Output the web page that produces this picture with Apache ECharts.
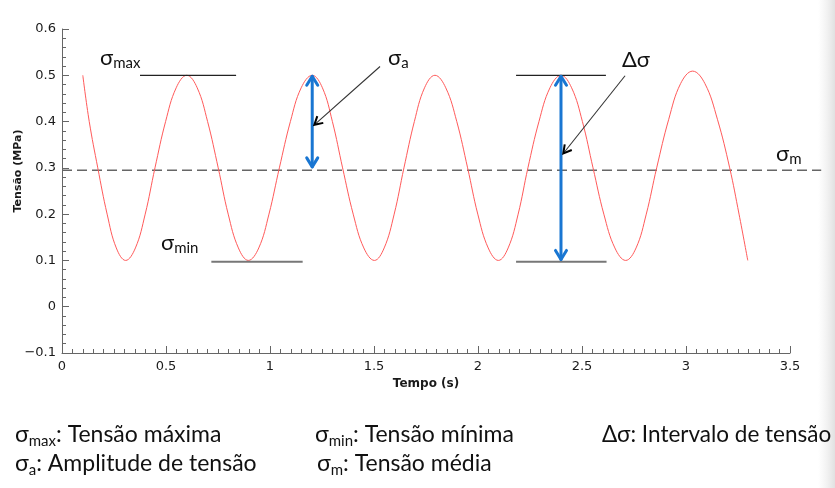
<!DOCTYPE html>
<html>
<head>
<meta charset="utf-8">
<script src="https://cdn.jsdelivr.net/npm/echarts@6/dist/echarts.min.js"></script>
<style>
html,body{margin:0;padding:0;background:#fff;}
#chart{width:835px;height:488px;}
</style>
</head>
<body>
<div id="chart"></div>
<script>
// ---- data ----
const timeX = [0.100,0.131,0.172,0.217,0.261,0.306,0.353,0.400,0.447,0.498,0.549,0.600,0.650,0.700,0.751,0.799,0.848,0.896,0.946,0.995,1.045,1.098,1.150,1.203,1.252,1.300,1.349,1.400,1.451,1.502,1.549,1.597,1.644,1.694,1.743,1.793,1.845,1.898,1.950,1.999,2.049,2.098,2.145,2.193,2.240,2.293,2.346,2.399,2.450,2.502,2.553,2.605,2.658,2.710,2.760,2.809,2.859,2.917,2.974,3.032,3.091,3.151,3.210,3.255,3.297];
const stressY = [0.500,0.400,0.300,0.200,0.127,0.100,0.127,0.200,0.300,0.400,0.473,0.500,0.473,0.400,0.300,0.200,0.127,0.100,0.127,0.200,0.300,0.400,0.473,0.500,0.473,0.400,0.300,0.200,0.127,0.100,0.127,0.200,0.300,0.400,0.473,0.500,0.473,0.400,0.300,0.200,0.127,0.100,0.127,0.200,0.300,0.400,0.473,0.500,0.473,0.400,0.300,0.200,0.127,0.100,0.127,0.200,0.300,0.405,0.482,0.509,0.482,0.405,0.300,0.200,0.100];
const meanStress = 0.295;
const meanLineEnd = 3.65;
// horizontal reference segments: [xStart, xEnd, y]
const maxSegments = [[0.375, 0.837, 0.5], [2.183, 2.615, 0.5]];
const minSegments = [[0.718, 1.157, 0.097], [2.183, 2.618, 0.097]];
// double blue arrows: [x, yTop, yBottom]
const blueArrows = [[1.203, 0.5, 0.3], [2.399, 0.5, 0.1]];
// pointer arrows: [xFrom, yFrom, xTo, yTo]
const pointerArrows = [[1.529, 0.519, 1.213, 0.393], [2.707, 0.499, 2.41, 0.331]];
const xTicks = [0, 0.5, 1, 1.5, 2, 2.5, 3, 3.5];
const yTicks = [-0.1, 0, 0.1, 0.2, 0.3, 0.4, 0.5, 0.6];

const chart = echarts.init(document.getElementById('chart'), null, {renderer: 'canvas'});
const curve = timeX.map((x, i) => [x, stressY[i]]);
const annFont = 'Lato, "Open Sans", sans-serif';
const textCol = '#111';
const tickFont = '"DejaVu Sans", sans-serif';

function chevron(px, py, dx, dy, len, half) {
  const bx = px - dx * len, by = py - dy * len;
  const nx = -dy, ny = dx;
  return [[bx + nx * half, by + ny * half], [px, py], [bx - nx * half, by - ny * half]];
}

function richLabel(main, sub, rest, size, subSize) {
  const t = '{s|' + main + '}' + (sub ? '{b|' + sub + '}' : '') + (rest ? '{s|' + rest + '}' : '');
  return {
    text: t,
    fill: textCol,
    font: size + 'px ' + annFont,
    verticalAlign: 'middle',
    align: 'left',
    rich: {
      s: {fontSize: size, fontFamily: annFont, fill: textCol, color: textCol, lineHeight: size + 4, verticalAlign: 'middle'},
      b: {fontSize: subSize, fontFamily: annFont, fill: textCol, color: textCol, lineHeight: subSize, verticalAlign: 'bottom'}
    }
  };
}

const option = {
  backgroundColor: '#fff',
  animation: false,
  grid: {left: 62, right: 45, top: 29, bottom: 135},
  xAxis: {
    type: 'value', min: 0, max: 3.5, interval: 0.5,
    axisLine: {onZero: false, lineStyle: {color: '#666', width: 1}},
    axisTick: {inside: true, length: 7, lineStyle: {color: '#666'}},
    minorTick: {show: true, splitNumber: 10, length: 4, lineStyle: {color: '#666'}},
    splitLine: {show: false},
    axisLabel: {color: '#1a1a1a', fontSize: 13, fontFamily: tickFont, margin: 7,
      formatter: v => String(+v.toFixed(1))},
    name: 'Tempo (s)', nameLocation: 'middle', nameGap: 23,
    nameTextStyle: {color: '#1a1a1a', fontWeight: 'bold', fontSize: 12, fontFamily: tickFont}
  },
  yAxis: {
    type: 'value', min: -0.1, max: 0.6, interval: 0.1,
    axisLine: {show: true, onZero: false, lineStyle: {color: '#666', width: 1}},
    axisTick: {show: true, inside: true, length: 7, lineStyle: {color: '#666'}},
    minorTick: {show: true, splitNumber: 5, length: 4, lineStyle: {color: '#666'}},
    splitLine: {show: false},
    axisLabel: {color: '#1a1a1a', fontSize: 13, fontFamily: tickFont, margin: 6,
      formatter: v => { const r = +v.toFixed(1); return r < 0 ? '\u2212' + Math.abs(r) : String(r); }}
  },
  series: [
    {
      type: 'line', data: curve, smooth: 0.4, showSymbol: false, symbol: 'none',
      lineStyle: {color: '#ff5a5a', width: 1}, z: 3
    },
    {
      type: 'custom', clip: false, z: 2,
      data: [[0, meanLineEnd, meanStress]],
      renderItem: (params, api) => {
        const a = api.coord([api.value(0), api.value(2)]);
        const b = api.coord([api.value(1), api.value(2)]);
        return {type: 'line', shape: {x1: a[0], y1: a[1], x2: b[0], y2: b[1]},
          style: {stroke: '#666', lineWidth: 1.5, lineDash: [10, 5]}};
      }
    },
    {
      type: 'custom', clip: false, z: 4, data: maxSegments,
      renderItem: (params, api) => {
        const a = api.coord([api.value(0), api.value(2)]);
        const b = api.coord([api.value(1), api.value(2)]);
        return {type: 'line', shape: {x1: a[0], y1: a[1], x2: b[0], y2: b[1]},
          style: {stroke: '#222', lineWidth: 1.2}};
      }
    },
    {
      type: 'custom', clip: false, z: 4, data: minSegments,
      renderItem: (params, api) => {
        const a = api.coord([api.value(0), api.value(2)]);
        const b = api.coord([api.value(1), api.value(2)]);
        return {type: 'line', shape: {x1: a[0], y1: a[1], x2: b[0], y2: b[1]},
          style: {stroke: '#777', lineWidth: 2}};
      }
    },
    {
      type: 'custom', clip: false, z: 5, data: blueArrows,
      renderItem: (params, api) => {
        const t = api.coord([api.value(0), api.value(1)]);
        const b = api.coord([api.value(0), api.value(2)]);
        const st = {stroke: '#1976d2', lineWidth: 3, fill: null, lineCap: 'round', lineJoin: 'round'};
        return {type: 'group', children: [
          {type: 'line', shape: {x1: t[0], y1: t[1] + 1, x2: b[0], y2: b[1] - 1}, style: st},
          {type: 'polyline', shape: {points: chevron(t[0], t[1] + 1, 0, -1, 9, 5.5)}, style: st},
          {type: 'polyline', shape: {points: chevron(b[0], b[1] - 1, 0, 1, 9, 5.5)}, style: st}
        ]};
      }
    },
    {
      type: 'custom', clip: false, z: 6, data: pointerArrows,
      renderItem: (params, api) => {
        const a = api.coord([api.value(0), api.value(1)]);
        const b = api.coord([api.value(2), api.value(3)]);
        const L = Math.hypot(b[0] - a[0], b[1] - a[1]);
        const dx = (b[0] - a[0]) / L, dy = (b[1] - a[1]) / L;
        return {type: 'group', children: [
          {type: 'line', shape: {x1: a[0], y1: a[1], x2: b[0], y2: b[1]}, style: {stroke: '#333', lineWidth: 1.1}},
          {type: 'polyline', shape: {points: chevron(b[0], b[1], dx, dy, 8, 4.5)},
            style: {stroke: '#000', lineWidth: 2, fill: null, lineJoin: 'miter'}}
        ]};
      }
    }
  ],
  graphic: [
    {type: 'rect', left: 818, top: 0, z: -1, shape: {width: 17, height: 488},
      style: {fill: new echarts.graphic.LinearGradient(0, 0, 1, 0, [{offset: 0, color: 'rgba(235,235,235,0)'}, {offset: 1, color: 'rgba(225,225,225,1)'}])}},
    {type: 'text', x: 18, y: 171, rotation: Math.PI / 2, z: 10,
      style: {text: 'Tensão (MPa)', fill: '#1a1a1a', font: 'bold 11px "DejaVu Sans", sans-serif', align: 'center', verticalAlign: 'middle'}},
    {type: 'text', x: 100, y: 58, z: 10, style: richLabel('σ', 'max', '', 22, 15)},
    {type: 'text', x: 388, y: 58, z: 10, style: richLabel('σ', 'a', '', 22, 15)},
    {type: 'text', x: 622, y: 60, z: 10, style: richLabel('Δσ', '', '', 22, 15)},
    {type: 'text', x: 776, y: 154, z: 10, style: richLabel('σ', 'm', '', 22, 15)},
    {type: 'text', x: 161, y: 243, z: 10, style: richLabel('σ', 'min', '', 22, 15)},
    {type: 'text', x: 15, y: 435, z: 10, style: richLabel('σ', 'max', ': Tensão máxima', 23, 15)},
    {type: 'text', x: 15, y: 464, z: 10, style: richLabel('σ', 'a', ': Amplitude de tensão', 23, 15)},
    {type: 'text', x: 315, y: 435, z: 10, style: richLabel('σ', 'min', ': Tensão mínima', 23, 15)},
    {type: 'text', x: 317, y: 464, z: 10, style: richLabel('σ', 'm', ': Tensão média', 23, 15)},
    {type: 'text', x: 602, y: 435, z: 10, style: richLabel('Δσ: Intervalo de tensão', '', '', 22.5, 15)}
  ]
};
chart.setOption(option);
</script>
</body>
</html>
